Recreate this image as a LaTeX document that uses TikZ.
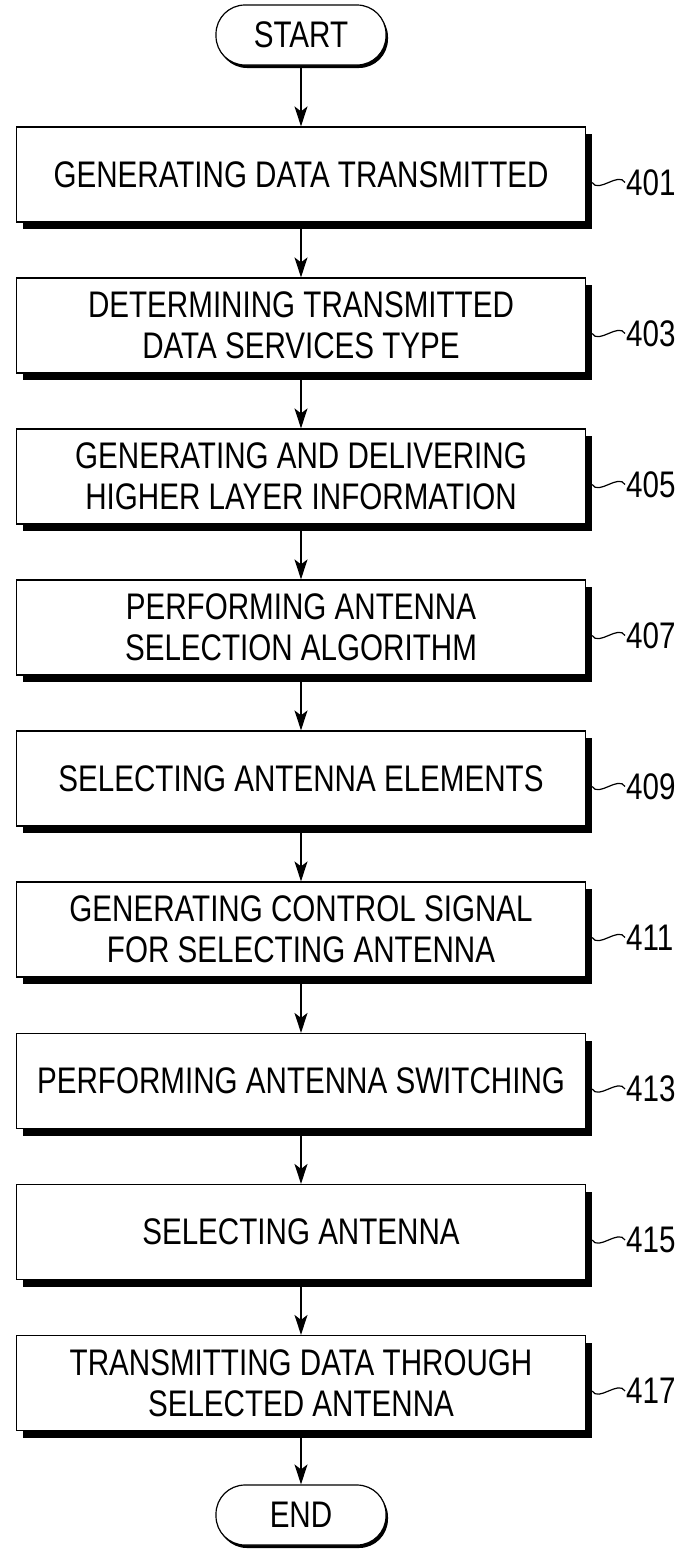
\documentclass[tikz,border=0pt]{standalone}
\usepackage{fontspec}
\setmainfont{Liberation Sans}[FakeStretch=0.8]
\usetikzlibrary{arrows.meta,shadows}
\begin{document}
\begin{tikzpicture}[x=1pt,y=-1pt,
  box/.style={draw,line width=1.2pt,fill=white,minimum width=569pt,minimum height=95pt,
    align=center,font=\fontsize{37}{41}\selectfont,inner sep=0pt,
    drop shadow={shadow xshift=6pt,shadow yshift=-7pt,fill=black,opacity=1}},
  term/.style={draw,line width=1.2pt,fill=white,rounded corners=29pt,minimum width=170pt,
    minimum height=60pt,font=\fontsize{37}{41}\selectfont,inner sep=0pt,
    drop shadow={shadow xshift=2pt,shadow yshift=-3pt,fill=black,opacity=1}},
  arr/.style={line width=1.3pt,-{Stealth[length=20pt,width=13pt,inset=5pt]}},
  lbl/.style={font=\fontsize{37}{41}\selectfont,inner sep=1pt,anchor=west},
  lead/.style={line width=1.2pt}]
\useasboundingbox (0,0) rectangle (679,1551);

\node[term] (start) at (301,35) {START};
\node[box] (b401) at (301,174.5) {GENERATING DATA TRANSMITTED};
\node[box] (b403) at (301,325.5) {DETERMINING TRANSMITTED\\DATA SERVICES TYPE};
\node[box] (b405) at (301,476.5) {GENERATING AND DELIVERING\\HIGHER LAYER INFORMATION};
\node[box] (b407) at (301,627.5) {PERFORMING ANTENNA\\SELECTION ALGORITHM};
\node[box] (b409) at (301,778.5) {SELECTING ANTENNA ELEMENTS};
\node[box] (b411) at (301,929.5) {GENERATING CONTROL SIGNAL\\FOR SELECTING ANTENNA};
\node[box] (b413) at (301,1081) {PERFORMING ANTENNA SWITCHING};
\node[box] (b415) at (301,1232) {SELECTING ANTENNA};
\node[box] (b417) at (301,1383) {TRANSMITTING DATA THROUGH\\SELECTED ANTENNA};
\node[term] (end) at (301,1515) {END};

\foreach \n/\y in {401/182.5,403/333.5,405/484.5,407/635.5,409/786.5,411/937.5,413/1089,415/1240,417/1391}{
  \node[lbl] (l\n) at (625,\y) {\n};
  \draw[lead] ([xshift=6pt]b\n.east |- l\n.west) to[out=-60,in=120] (l\n.west);
}

\draw[arr] (start) -- (b401);
\draw[arr] (b401) -- (b403);
\draw[arr] (b403) -- (b405);
\draw[arr] (b405) -- (b407);
\draw[arr] (b407) -- (b409);
\draw[arr] (b409) -- (b411);
\draw[arr] (b411) -- (b413);
\draw[arr] (b413) -- (b415);
\draw[arr] (b415) -- (b417);
\draw[arr] (b417) -- (end);
\end{tikzpicture}
\end{document}
